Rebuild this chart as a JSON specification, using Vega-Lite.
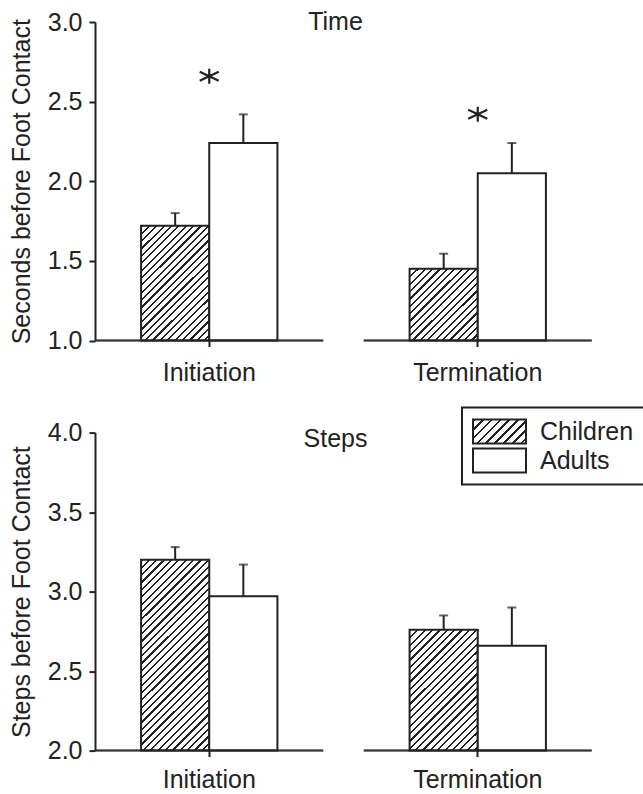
{
"$schema": "https://vega.github.io/schema/vega-lite/v6.json",
"background": "white",
"padding": {"left": 9, "top": 10, "right": 0, "bottom": 0},
"params": [{"name": "hatch", "value": [
{"offset":0,"color":"#222"},{"offset":0.0075,"color":"#222"},{"offset":0.0075,"color":"#fff"},{"offset":0.025,"color":"#fff"},
{"offset":0.025,"color":"#222"},{"offset":0.0325,"color":"#222"},{"offset":0.0325,"color":"#fff"},{"offset":0.05,"color":"#fff"},
{"offset":0.05,"color":"#222"},{"offset":0.0575,"color":"#222"},{"offset":0.0575,"color":"#fff"},{"offset":0.075,"color":"#fff"},
{"offset":0.075,"color":"#222"},{"offset":0.0825,"color":"#222"},{"offset":0.0825,"color":"#fff"},{"offset":0.1,"color":"#fff"},
{"offset":0.1,"color":"#222"},{"offset":0.1075,"color":"#222"},{"offset":0.1075,"color":"#fff"},{"offset":0.125,"color":"#fff"},
{"offset":0.125,"color":"#222"},{"offset":0.1325,"color":"#222"},{"offset":0.1325,"color":"#fff"},{"offset":0.15,"color":"#fff"},
{"offset":0.15,"color":"#222"},{"offset":0.1575,"color":"#222"},{"offset":0.1575,"color":"#fff"},{"offset":0.175,"color":"#fff"},
{"offset":0.175,"color":"#222"},{"offset":0.1825,"color":"#222"},{"offset":0.1825,"color":"#fff"},{"offset":0.2,"color":"#fff"},
{"offset":0.2,"color":"#222"},{"offset":0.2075,"color":"#222"},{"offset":0.2075,"color":"#fff"},{"offset":0.225,"color":"#fff"},
{"offset":0.225,"color":"#222"},{"offset":0.2325,"color":"#222"},{"offset":0.2325,"color":"#fff"},{"offset":0.25,"color":"#fff"},
{"offset":0.25,"color":"#222"},{"offset":0.2575,"color":"#222"},{"offset":0.2575,"color":"#fff"},{"offset":0.275,"color":"#fff"},
{"offset":0.275,"color":"#222"},{"offset":0.2825,"color":"#222"},{"offset":0.2825,"color":"#fff"},{"offset":0.3,"color":"#fff"},
{"offset":0.3,"color":"#222"},{"offset":0.3075,"color":"#222"},{"offset":0.3075,"color":"#fff"},{"offset":0.325,"color":"#fff"},
{"offset":0.325,"color":"#222"},{"offset":0.3325,"color":"#222"},{"offset":0.3325,"color":"#fff"},{"offset":0.35,"color":"#fff"},
{"offset":0.35,"color":"#222"},{"offset":0.3575,"color":"#222"},{"offset":0.3575,"color":"#fff"},{"offset":0.375,"color":"#fff"},
{"offset":0.375,"color":"#222"},{"offset":0.3825,"color":"#222"},{"offset":0.3825,"color":"#fff"},{"offset":0.4,"color":"#fff"},
{"offset":0.4,"color":"#222"},{"offset":0.4075,"color":"#222"},{"offset":0.4075,"color":"#fff"},{"offset":0.425,"color":"#fff"},
{"offset":0.425,"color":"#222"},{"offset":0.4325,"color":"#222"},{"offset":0.4325,"color":"#fff"},{"offset":0.45,"color":"#fff"},
{"offset":0.45,"color":"#222"},{"offset":0.4575,"color":"#222"},{"offset":0.4575,"color":"#fff"},{"offset":0.475,"color":"#fff"},
{"offset":0.475,"color":"#222"},{"offset":0.4825,"color":"#222"},{"offset":0.4825,"color":"#fff"},{"offset":0.5,"color":"#fff"},
{"offset":0.5,"color":"#222"},{"offset":0.5075,"color":"#222"},{"offset":0.5075,"color":"#fff"},{"offset":0.525,"color":"#fff"},
{"offset":0.525,"color":"#222"},{"offset":0.5325,"color":"#222"},{"offset":0.5325,"color":"#fff"},{"offset":0.55,"color":"#fff"},
{"offset":0.55,"color":"#222"},{"offset":0.5575,"color":"#222"},{"offset":0.5575,"color":"#fff"},{"offset":0.575,"color":"#fff"},
{"offset":0.575,"color":"#222"},{"offset":0.5825,"color":"#222"},{"offset":0.5825,"color":"#fff"},{"offset":0.6,"color":"#fff"},
{"offset":0.6,"color":"#222"},{"offset":0.6075,"color":"#222"},{"offset":0.6075,"color":"#fff"},{"offset":0.625,"color":"#fff"},
{"offset":0.625,"color":"#222"},{"offset":0.6325,"color":"#222"},{"offset":0.6325,"color":"#fff"},{"offset":0.65,"color":"#fff"},
{"offset":0.65,"color":"#222"},{"offset":0.6575,"color":"#222"},{"offset":0.6575,"color":"#fff"},{"offset":0.675,"color":"#fff"},
{"offset":0.675,"color":"#222"},{"offset":0.6825,"color":"#222"},{"offset":0.6825,"color":"#fff"},{"offset":0.7,"color":"#fff"},
{"offset":0.7,"color":"#222"},{"offset":0.7075,"color":"#222"},{"offset":0.7075,"color":"#fff"},{"offset":0.725,"color":"#fff"},
{"offset":0.725,"color":"#222"},{"offset":0.7325,"color":"#222"},{"offset":0.7325,"color":"#fff"},{"offset":0.75,"color":"#fff"},
{"offset":0.75,"color":"#222"},{"offset":0.7575,"color":"#222"},{"offset":0.7575,"color":"#fff"},{"offset":0.775,"color":"#fff"},
{"offset":0.775,"color":"#222"},{"offset":0.7825,"color":"#222"},{"offset":0.7825,"color":"#fff"},{"offset":0.8,"color":"#fff"},
{"offset":0.8,"color":"#222"},{"offset":0.8075,"color":"#222"},{"offset":0.8075,"color":"#fff"},{"offset":0.825,"color":"#fff"},
{"offset":0.825,"color":"#222"},{"offset":0.8325,"color":"#222"},{"offset":0.8325,"color":"#fff"},{"offset":0.85,"color":"#fff"},
{"offset":0.85,"color":"#222"},{"offset":0.8575,"color":"#222"},{"offset":0.8575,"color":"#fff"},{"offset":0.875,"color":"#fff"},
{"offset":0.875,"color":"#222"},{"offset":0.8825,"color":"#222"},{"offset":0.8825,"color":"#fff"},{"offset":0.9,"color":"#fff"},
{"offset":0.9,"color":"#222"},{"offset":0.9075,"color":"#222"},{"offset":0.9075,"color":"#fff"},{"offset":0.925,"color":"#fff"},
{"offset":0.925,"color":"#222"},{"offset":0.9325,"color":"#222"},{"offset":0.9325,"color":"#fff"},{"offset":0.95,"color":"#fff"},
{"offset":0.95,"color":"#222"},{"offset":0.9575,"color":"#222"},{"offset":0.9575,"color":"#fff"},{"offset":0.975,"color":"#fff"},
{"offset":0.975,"color":"#222"},{"offset":0.9825,"color":"#222"},{"offset":0.9825,"color":"#fff"},{"offset":1,"color":"#fff"}
]}],
"config": {
  "font": "Liberation Sans",
  "view": {"stroke": null},
  "axis": {"labelFontSize": 25, "labelColor": "#222", "labelFont": "Liberation Sans", "titleFont": "Liberation Sans", "titleFontSize": 25, "titleFontWeight": "normal", "titleColor": "#222", "domainColor": "#222", "domainWidth": 2, "tickColor": "#222", "tickWidth": 2, "tickSize": 6, "grid": false}
},
"datasets": {
  "time": [
    {"phase": "Initiation", "group": "Children", "mean": 1.72, "upper": 1.80},
    {"phase": "Initiation", "group": "Adults", "mean": 2.24, "upper": 2.42},
    {"phase": "Termination", "group": "Children", "mean": 1.45, "upper": 1.545},
    {"phase": "Termination", "group": "Adults", "mean": 2.05, "upper": 2.24}
  ],
  "steps": [
    {"phase": "Initiation", "group": "Children", "mean": 3.20, "upper": 3.28},
    {"phase": "Initiation", "group": "Adults", "mean": 2.97, "upper": 3.17},
    {"phase": "Termination", "group": "Children", "mean": 2.76, "upper": 2.85},
    {"phase": "Termination", "group": "Adults", "mean": 2.66, "upper": 2.90}
  ],
  "stars": [
    {"phase": "Initiation", "y": 2.66},
    {"phase": "Termination", "y": 2.42}
  ]
},
"spacing": 91.6,
"bounds": "flush",
"resolve": {"scale": {"x": "independent", "y": "independent", "xOffset": "independent", "fill": "independent"}, "legend": {"fill": "independent"}},
"vconcat": [
  {
    "width": 497, "height": 318.5,
    "title": {"text": "Time", "anchor": "middle", "frame": "group", "offset": -45, "dx": -8, "fontSize": 25, "fontWeight": "normal", "color": "#222", "font": "Liberation Sans", "baseline": "alphabetic"},
    "data": {"name": "time"},
    "encoding": {
      "x": {"field": "phase", "type": "nominal", "sort": ["Initiation", "Termination"], "scale": {"paddingInner": 0.149, "paddingOuter": 0}, "axis": {"title": null, "domain": false, "labelAngle": 0, "labelPadding": 14}}
    },
    "layer": [
      {
        "mark": {"type": "bar", "stroke": "#222", "strokeWidth": 2, "fill": "#fff"},
        "encoding": {
          "xOffset": {"field": "group", "type": "nominal", "sort": ["Children", "Adults"], "scale": {"paddingInner": 0, "paddingOuter": 0.676}},
          "y": {"field": "mean", "type": "quantitative", "title": "Seconds before Foot Contact", "scale": {"domain": [1, 3], "nice": false, "zero": false}, "axis": {"values": [1, 1.5, 2, 2.5, 3], "format": ".1f", "labelPadding": 7, "titlePadding": 13}},
          "y2": {"datum": 1},
          "fill": {"condition": [
            {"test": "datum.group === 'Children' && datum.phase === 'Initiation'", "value": {"expr": "{gradient: 'linear', x1: 0, y1: 0, x2: 1.1252, y2: 1.8979, stops: hatch}"}},
            {"test": "datum.group === 'Children' && datum.phase === 'Termination'", "value": {"expr": "{gradient: 'linear', x1: 0, y1: 0, x2: 2.0487, y2: 2.1602, stops: hatch}"}}
          ], "value": "#fff"}
        }
      },
      {
        "mark": {"type": "rule", "stroke": "#222", "strokeWidth": 2},
        "encoding": {
          "xOffset": {"field": "group", "type": "nominal", "sort": ["Children", "Adults"]},
          "y": {"field": "mean", "type": "quantitative", "title": "Seconds before Foot Contact"},
          "y2": {"field": "upper"}
        }
      },
      {
        "mark": {"type": "tick", "orient": "horizontal", "size": 9, "thickness": 2, "color": "#222"},
        "encoding": {
          "xOffset": {"field": "group", "type": "nominal", "sort": ["Children", "Adults"]},
          "y": {"field": "upper", "type": "quantitative", "title": "Seconds before Foot Contact"}
        }
      },
      {
        "mark": {"type": "tick", "orient": "horizontal", "size": 228, "thickness": 2, "color": "#222"},
        "encoding": {
          "y": {"datum": 1, "type": "quantitative"}
        }
      },
      {
        "data": {"name": "stars"},
        "mark": {"type": "point", "shape": "M0,-1L0,1M-1.27,-0.6L1.27,0.6M-1.27,0.6L1.27,-0.6", "size": 225, "filled": false, "stroke": "#222", "strokeWidth": 2.2, "opacity": 1},
        "encoding": {
          "y": {"field": "y", "type": "quantitative", "title": "Seconds before Foot Contact"}
        }
      }
    ]
  },
  {
    "width": 497, "height": 318,
    "title": {"text": "Steps", "anchor": "middle", "frame": "group", "offset": -65, "dx": -8, "fontSize": 25, "fontWeight": "normal", "color": "#222", "font": "Liberation Sans", "baseline": "alphabetic"},
    "data": {"name": "steps"},
    "encoding": {
      "x": {"field": "phase", "type": "nominal", "sort": ["Initiation", "Termination"], "scale": {"paddingInner": 0.149, "paddingOuter": 0}, "axis": {"title": null, "domain": false, "labelAngle": 0, "labelPadding": 11}}
    },
    "layer": [
      {
        "mark": {"type": "bar", "stroke": "#222", "strokeWidth": 2},
        "encoding": {
          "xOffset": {"field": "group", "type": "nominal", "sort": ["Children", "Adults"], "scale": {"paddingInner": 0, "paddingOuter": 0.676}},
          "y": {"field": "mean", "type": "quantitative", "title": "Steps before Foot Contact", "scale": {"domain": [2, 4], "nice": false, "zero": false}, "axis": {"values": [2, 2.5, 3, 3.5, 4], "format": ".1f", "labelPadding": 7, "titlePadding": 13}},
          "y2": {"datum": 2},
          "fill": {
            "field": "group", "type": "nominal",
            "scale": {"domain": ["Children", "Adults"], "range": [{"expr": "{gradient: 'linear', x1: 0, y1: 0, x2: 5.53, y2: 2.5, stops: hatch}"}, "#fff"]},
            "legend": {
              "title": null, "orient": "none", "legendX": 367, "legendY": -25,
              "symbolType": "M-1,-0.453H1V0.453H-1Z", "symbolSize": 2809,
              "symbolStrokeColor": "#222", "symbolStrokeWidth": 2, "symbolOpacity": 1,
              "clipHeight": 28, "rowPadding": 1,
              "labelFontSize": 25, "labelColor": "#222", "labelFont": "Liberation Sans", "labelOffset": 13,
              "padding": 10, "strokeColor": "#222", "fillColor": "#fff",
              "encode": {
                "legend": {"update": {"strokeWidth": {"value": 2}}}
              }
            },
            "condition": [
              {"test": "datum.group === 'Children' && datum.phase === 'Initiation'", "value": {"expr": "{gradient: 'linear', x1: 0, y1: 0, x2: 0.4885, y2: 1.3693, stops: hatch}"}},
              {"test": "datum.group === 'Children' && datum.phase === 'Termination'", "value": {"expr": "{gradient: 'linear', x1: 0, y1: 0, x2: 1.0424, y2: 1.8502, stops: hatch}"}}
            ]
          }
        }
      },
      {
        "mark": {"type": "rule", "stroke": "#222", "strokeWidth": 2},
        "encoding": {
          "xOffset": {"field": "group", "type": "nominal", "sort": ["Children", "Adults"]},
          "y": {"field": "mean", "type": "quantitative", "title": "Steps before Foot Contact"},
          "y2": {"field": "upper"}
        }
      },
      {
        "mark": {"type": "tick", "orient": "horizontal", "size": 9, "thickness": 2, "color": "#222"},
        "encoding": {
          "xOffset": {"field": "group", "type": "nominal", "sort": ["Children", "Adults"]},
          "y": {"field": "upper", "type": "quantitative", "title": "Steps before Foot Contact"}
        }
      },
      {
        "mark": {"type": "tick", "orient": "horizontal", "size": 228, "thickness": 2, "color": "#222"},
        "encoding": {
          "y": {"datum": 2, "type": "quantitative"}
        }
      }
    ]
  }
]
}
